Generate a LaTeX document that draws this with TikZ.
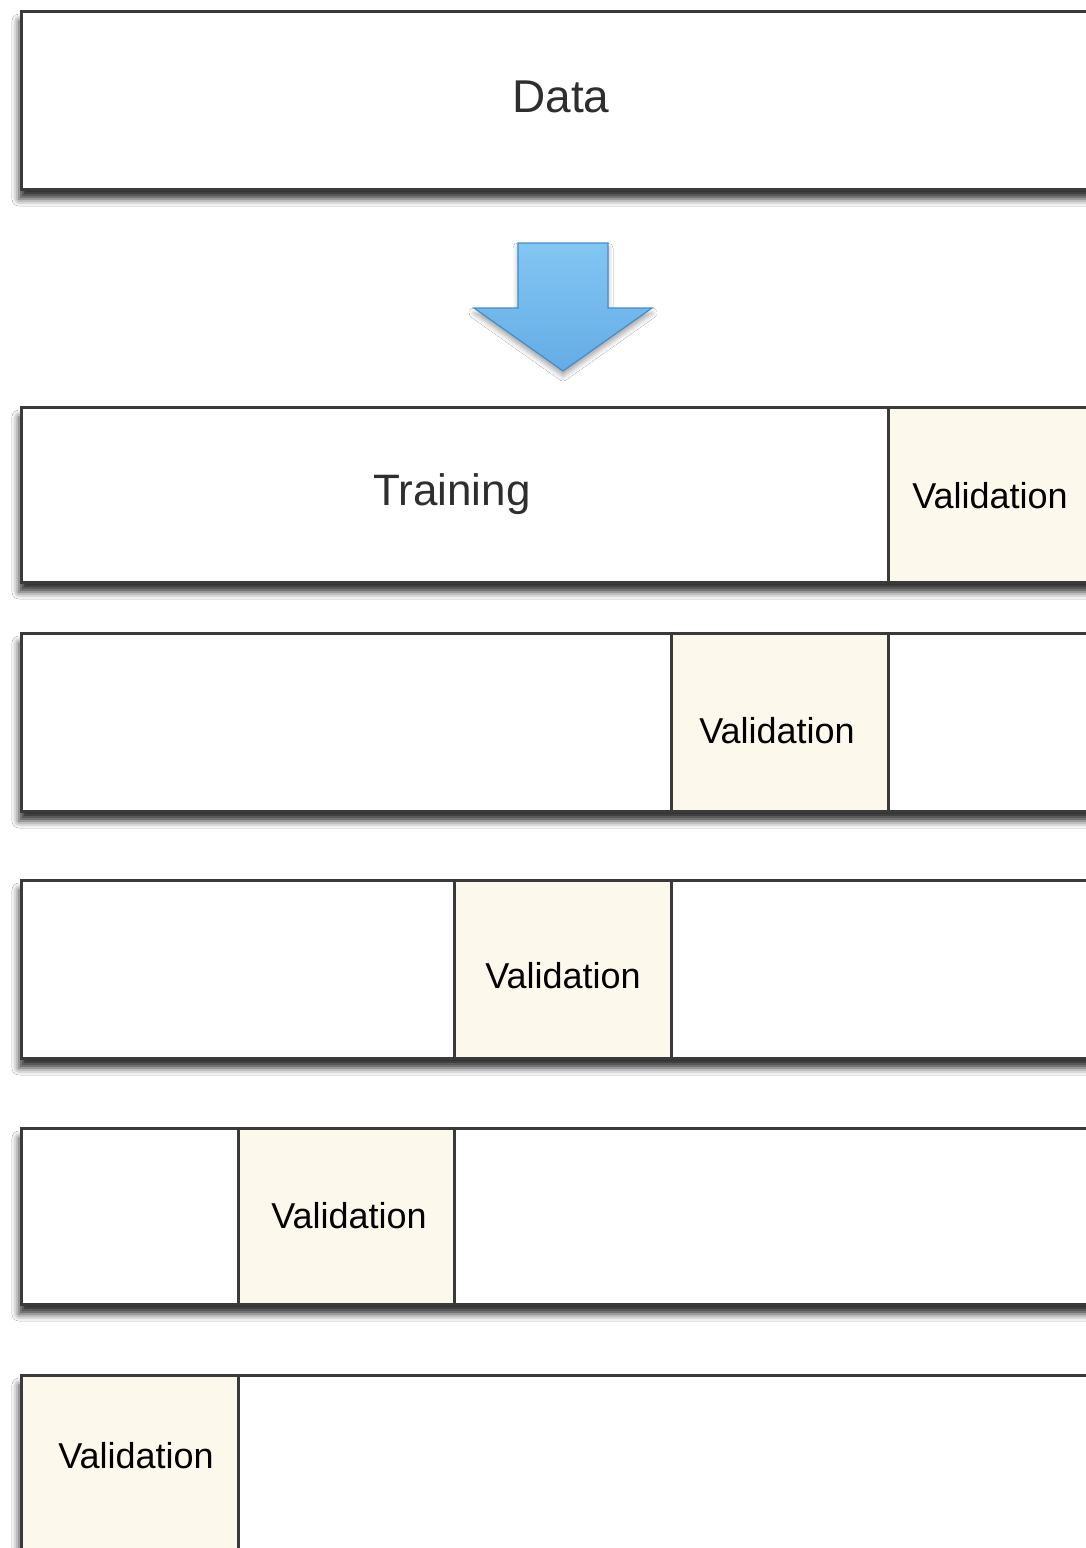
\documentclass[tikz,border=0pt]{standalone}
\usepackage{fontspec}
\setmainfont{Liberation Sans}
\usetikzlibrary{shadows.blur}
\definecolor{edge}{HTML}{3A3A3A}
\definecolor{valfill}{HTML}{FDF8EC}
\definecolor{arrowtop}{RGB}{130,198,242}
\definecolor{arrowbot}{RGB}{100,172,230}
\definecolor{arrowedge}{RGB}{70,140,200}
\tikzset{
  cell/.style={draw=edge, line width=2.5pt, fill=white, anchor=north west, inner sep=0pt},
  valcell/.style={cell, fill=valfill, font=\fontsize{36}{40}\selectfont},
  rowshadow/.style={blur shadow={shadow xshift=-1pt, shadow yshift=-11pt, shadow blur radius=7pt, shadow opacity=80}},
}
\begin{document}
\begin{tikzpicture}[x=1pt, y=-1pt]
\useasboundingbox (0,0) rectangle (1086,1548);
\clip (0,0) rectangle (1086,1548);
\fill[white] (0,0) rectangle (1086,1548);
% Data
\path[rowshadow, fill=white] (20,10) rectangle (1110,188);
\node[cell, minimum width=1090pt, minimum height=178pt] (data) at (20,10) {};
\node[text=black!82, font=\fontsize{46}{50}\selectfont] (datalbl) at (561,97) {Data};
% Arrow
\path[blur shadow={shadow xshift=0pt, shadow yshift=-5pt, shadow blur radius=5pt, shadow opacity=35},
      top color=arrowtop, bottom color=arrowbot, draw=arrowedge, line width=1.2pt, line join=miter]
  (518,243) -- (608,243) -- (608,308) -- (652,308) -- (563,371) -- (474,308) -- (518,308) -- cycle;
% Row 1
\path[rowshadow, fill=white] (20,406) rectangle (1110,581);
\node[cell, minimum width=867pt, minimum height=175pt] (r1a) at (20,406) {};
\node[valcell, minimum width=230pt, minimum height=175pt] (r1v) at (887,406) {};
\node[text=black!82, font=\fontsize{44}{48}\selectfont] (trainlbl) at (452,494) {Training};
\node[font=\fontsize{36}{40}\selectfont] (r1vlbl) at (990,496) {Validation};
% Row 2
\path[rowshadow, fill=white] (20,632) rectangle (1110,810);
\node[cell, minimum width=650pt, minimum height=178pt] (r2a) at (20,632) {};
\node[valcell, minimum width=217pt, minimum height=178pt] (r2v) at (670,632) {};
\node[cell, minimum width=230pt, minimum height=178pt] (r2b) at (887,632) {};
\node[font=\fontsize{36}{40}\selectfont] (r2vlbl) at (777,731) {Validation};
% Row 3
\path[rowshadow, fill=white] (20,879) rectangle (1110,1057);
\node[cell, minimum width=433pt, minimum height=178pt] (r3a) at (20,879) {};
\node[valcell, minimum width=217pt, minimum height=178pt] (r3v) at (453,879) {};
\node[cell, minimum width=440pt, minimum height=178pt] (r3b) at (670,879) {};
\node[font=\fontsize{36}{40}\selectfont] (r3vlbl) at (563,976) {Validation};
% Row 4
\path[rowshadow, fill=white] (20,1127) rectangle (1110,1303);
\node[cell, minimum width=217pt, minimum height=176pt] (r4a) at (20,1127) {};
\node[valcell, minimum width=216pt, minimum height=176pt] (r4v) at (237,1127) {};
\node[cell, minimum width=657pt, minimum height=176pt] (r4b) at (453,1127) {};
\node[font=\fontsize{36}{40}\selectfont] (r4vlbl) at (349,1216) {Validation};
% Row 5
\path[rowshadow, fill=white] (20,1374) rectangle (1110,1570);
\node[valcell, minimum width=217pt, minimum height=196pt] (r5v) at (20,1374) {};
\node[cell, minimum width=873pt, minimum height=196pt] (r5b) at (237,1374) {};
\node[font=\fontsize{36}{40}\selectfont] (r5vlbl) at (136,1456) {Validation};
\end{tikzpicture}
\end{document}
